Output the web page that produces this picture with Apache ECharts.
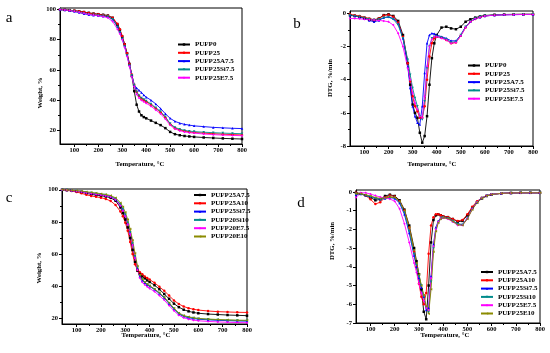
<!DOCTYPE html>
<html><head><meta charset="utf-8">
<script src="https://cdn.jsdelivr.net/npm/echarts@6/dist/echarts.min.js"></script>
<style>html,body{margin:0;padding:0;background:#fff;}#c{width:550px;height:353px;}</style>
</head><body><div id="c"></div>
<script>
// shared temperature grid (°C)
const temps = [40,60,80,100,120,140,160,180,200,220,240,260,280,290,300,310,320,330,340,350,360,370,380,390,400,420,440,460,480,500,520,540,560,580,600,640,680,720,760,800];

// ---- panel a : TGA (Weight, %)
const aNames = ['PUFP0','PUFP25','PUFP25A7.5','PUFP25Si7.5','PUFP25E7.5'];
const a_PUFP0 = [100,99.8,99.5,99.2,98.8,98.3,97.8,97.3,96.9,96.5,96,94.5,90,86.5,82,77,71,64,56,46,37,32.5,30,28.8,28,26.5,25,23.5,21.5,19,17.5,16.8,16.3,16,15.7,15.3,15,14.7,14.5,14.3];
const a_PUFP25 = [100,99.8,99.5,99.2,98.8,98.3,97.7,97.2,96.8,96.4,95.9,94.5,90.5,87,82.5,77,71,64,57,50,45.5,43,41,40,39,37,34.5,32,28.5,24,21.5,20.3,19.6,19,18.6,18.2,17.8,17.5,17.2,17];
const a_PUFP25A75 = [100,99.6,99.2,98.7,98,97.2,96.6,96.2,95.9,95.6,95.2,93.5,89,85.5,81,76,70,63.5,56.5,50,48,46.5,45,43.5,42,40,37.5,34.5,31,28,26,24.8,24,23.5,23,22.5,22,21.7,21.4,21.2];
const a_PUFP25Si75 = [100,99.7,99.3,98.8,98.2,97.5,96.9,96.5,96.2,95.9,95.4,93.5,88.5,85,80.5,75.5,69.5,63,56.5,50,45.5,43,41.5,40.5,39.5,37.5,35,32.5,29,24.5,22,20.8,20,19.5,19.2,18.8,18.5,18.2,18,17.8];
const a_PUFP25E75 = [100,99.7,99.3,98.8,98.2,97.5,96.8,96.3,95.9,95.4,94.5,92,87,84,80,75,69,62.5,55.5,49,44,41.5,40,39,38,36,33.5,31,27.5,23.5,21,19.8,19,18.5,18.2,17.6,17.2,16.9,16.7,16.5];

// ---- panel b : DTG (%/min)
const bNames = ['PUFP0','PUFP25','PUFP25A7.5','PUFP25Si7.5','PUFP25E7.5'];
const b_PUFP0 = [-0.1,-0.15,-0.2,-0.28,-0.38,-0.42,-0.3,-0.1,-0.05,-0.15,-0.45,-1.3,-3.0,-4.3,-5.5,-6.0,-6.3,-7.2,-7.8,-7.4,-6.2,-4.3,-2.7,-1.8,-1.3,-0.85,-0.8,-0.9,-0.95,-0.8,-0.5,-0.35,-0.25,-0.18,-0.12,-0.08,-0.06,-0.05,-0.05,-0.05];
const b_PUFP25 = [-0.05,-0.1,-0.15,-0.22,-0.3,-0.38,-0.3,-0.12,-0.08,-0.2,-0.55,-1.4,-3.0,-4.1,-5.0,-5.6,-5.9,-6.3,-6.3,-5.6,-4.0,-2.6,-1.8,-1.5,-1.4,-1.45,-1.6,-1.8,-1.75,-1.35,-0.85,-0.5,-0.33,-0.22,-0.15,-0.09,-0.07,-0.06,-0.05,-0.05];
const b_PUFP25A75 = [-0.1,-0.15,-0.22,-0.3,-0.42,-0.5,-0.42,-0.25,-0.2,-0.3,-0.6,-1.5,-3.2,-4.5,-5.6,-6.2,-6.6,-6.7,-5.6,-3.6,-1.8,-1.3,-1.2,-1.22,-1.3,-1.4,-1.5,-1.65,-1.65,-1.3,-0.8,-0.5,-0.32,-0.22,-0.15,-0.1,-0.08,-0.07,-0.06,-0.06];
const b_PUFP25Si75 = [-0.1,-0.15,-0.2,-0.26,-0.33,-0.38,-0.35,-0.25,-0.22,-0.35,-0.7,-1.5,-2.8,-3.7,-4.5,-5.1,-5.6,-6.2,-6.4,-5.3,-3.3,-2.0,-1.5,-1.4,-1.4,-1.45,-1.55,-1.75,-1.7,-1.3,-0.8,-0.48,-0.3,-0.2,-0.14,-0.09,-0.07,-0.06,-0.05,-0.05];
const b_PUFP25E75 = [-0.3,-0.3,-0.32,-0.35,-0.38,-0.4,-0.42,-0.45,-0.5,-0.7,-1.2,-2.0,-3.3,-4.0,-4.8,-5.4,-5.8,-6.2,-6.3,-5.0,-3.2,-2.0,-1.55,-1.4,-1.4,-1.5,-1.6,-1.8,-1.75,-1.35,-0.85,-0.5,-0.32,-0.22,-0.15,-0.1,-0.08,-0.07,-0.06,-0.06];

// ---- panel c : TGA (Weight, %)
const cNames = ['PUFP25A7.5','PUFP25A10','PUFP25Si7.5','PUFP20Si10','PUFP20E7.5','PUFP20E10'];
const c_A75 = [100,99.8,99.5,99.1,98.5,97.8,97.2,96.7,96.3,95.8,95,93.2,89,85.5,81.5,76.5,70,62.5,55,49.5,47.5,46,44.8,43.5,42.5,40.5,38,35,32,29,26.8,25.2,24.2,23.5,23,22.5,22.2,21.9,21.7,21.5];
const c_A10 = [100,99.7,99.2,98.6,97.8,96.9,96.2,95.6,95.1,94.3,93,90.5,86.5,83.5,79.5,74.5,67.5,60,53.5,50,48.5,47.3,46,45,44,42,39.5,37,34,31,28.8,27.2,26.2,25.5,25,24.4,24,23.8,23.6,23.5];
const c_Si75 = [100,99.8,99.6,99.3,98.9,98.4,97.9,97.4,97,96.5,95.7,94,90.5,87.5,84,79,73,66,58,51,46,43.5,42,40.8,39.8,37.8,35.3,32.5,29,25.5,22.5,21,20.2,19.7,19.3,18.9,18.6,18.4,18.2,18.1];
const c_Si10 = [100,99.8,99.6,99.3,98.9,98.5,98,97.6,97.2,96.7,96,94.4,91,88,84.5,79.5,73.5,66.5,58.5,51.5,46.5,44,42.3,41,40,38,35.6,32.8,29.3,25.8,22.8,21.3,20.5,20,19.6,19.2,18.9,18.7,18.5,18.4];
const c_E75 = [100,99.8,99.5,99.2,98.8,98.2,97.7,97.2,96.8,96.3,95.5,93.8,90,87,83.5,78.5,72.5,65.5,57.5,50,45,42.3,40.8,39.5,38.5,36.5,34,31.2,27.8,24.5,21.8,20.2,19.3,18.7,18.3,17.9,17.6,17.4,17.2,17.1];
const c_E10 = [100,99.9,99.7,99.5,99.2,98.8,98.4,98,97.6,97.1,96.4,95,92,89.5,86,81.5,75.5,68.5,60.5,52.5,47,44.2,42.5,41.2,40.2,38.2,35.8,33,29.6,26.2,23.2,21.6,20.8,20.2,19.8,19.4,19.1,18.9,18.7,18.6];

// ---- panel d : DTG (%/min)
const dNames = ['PUFP25A7.5','PUFP25A10','PUFP25Si7.5','PUFP25Si10','PUFP25E7.5','PUFP25E10'];
const d_A75 = [-0.05,-0.1,-0.18,-0.3,-0.45,-0.4,-0.22,-0.15,-0.22,-0.45,-0.95,-1.8,-3.0,-3.7,-4.4,-5.2,-6.4,-6.8,-5.0,-2.7,-1.5,-1.25,-1.2,-1.25,-1.3,-1.35,-1.45,-1.6,-1.55,-1.25,-0.85,-0.55,-0.35,-0.22,-0.14,-0.08,-0.06,-0.05,-0.05,-0.05];
const d_A10 = [-0.05,-0.1,-0.2,-0.4,-0.65,-0.55,-0.3,-0.2,-0.25,-0.5,-1.0,-1.9,-3.2,-4.0,-4.9,-5.6,-6.0,-5.4,-3.3,-1.8,-1.35,-1.2,-1.2,-1.25,-1.3,-1.35,-1.45,-1.55,-1.5,-1.2,-0.8,-0.5,-0.32,-0.2,-0.13,-0.08,-0.06,-0.05,-0.05,-0.05];
const d_Si75 = [-0.15,-0.12,-0.18,-0.25,-0.32,-0.38,-0.35,-0.3,-0.35,-0.6,-1.2,-2.2,-3.4,-4.0,-4.6,-5.1,-5.6,-6.3,-6.2,-4.5,-2.8,-1.9,-1.55,-1.4,-1.35,-1.4,-1.55,-1.7,-1.75,-1.4,-0.9,-0.55,-0.33,-0.2,-0.13,-0.08,-0.06,-0.05,-0.05,-0.05];
const d_Si10 = [-0.1,-0.12,-0.2,-0.28,-0.35,-0.4,-0.35,-0.28,-0.32,-0.55,-1.1,-2.1,-3.3,-3.9,-4.5,-5.0,-5.6,-6.2,-6.4,-4.8,-3.0,-2.0,-1.6,-1.42,-1.36,-1.42,-1.55,-1.72,-1.75,-1.4,-0.9,-0.55,-0.33,-0.2,-0.13,-0.08,-0.06,-0.05,-0.05,-0.05];
const d_E75 = [-0.3,-0.05,-0.05,-0.12,-0.2,-0.28,-0.32,-0.38,-0.5,-0.9,-1.7,-2.7,-3.8,-4.3,-4.9,-5.4,-5.8,-6.2,-6.3,-4.6,-2.9,-2.0,-1.6,-1.42,-1.38,-1.45,-1.6,-1.78,-1.78,-1.42,-0.92,-0.56,-0.34,-0.2,-0.13,-0.08,-0.06,-0.05,-0.05,-0.05];
const d_E10 = [-0.1,-0.1,-0.15,-0.22,-0.3,-0.35,-0.32,-0.28,-0.3,-0.5,-1.0,-1.9,-3.1,-3.8,-4.4,-5.0,-5.5,-6.1,-6.5,-5.2,-3.2,-2.1,-1.65,-1.45,-1.38,-1.42,-1.58,-1.75,-1.78,-1.45,-0.95,-0.58,-0.35,-0.21,-0.14,-0.08,-0.06,-0.05,-0.05,-0.05];

// tick labels
const xTicks = [100,200,300,400,500,600,700,800];
const xMinor = [150,250,350,450,550,650,750];
const wTicks = [20,40,60,80,100];
const wMinor = [30,50,70,90];
const bTicks = [-8,-6,-4,-2,0];
const bMinor = [-7,-5,-3,-1];
const dTicks = [-7,-6,-5,-4,-3,-2,-1,0];

const colors6 = ['#000000','#ff0000','#0000ff','#008b8b','#ff00ff','#8b8b00'];
const symbols6 = ['rect','circle','triangle','triangle','diamond','triangle'];
const rot6 = [0,0,0,180,0,90];
const F = '"Liberation Serif","Times New Roman",serif';

const grids = [
  {left:60, top:8, width:182, height:136},
  {left:350, top:11, width:183, height:135},
  {left:62, top:189, width:185, height:135},
  {left:356, top:190, width:184, height:133}
];
const yRanges = [[11,101],[-8,0.15],[16.3,100.5],[-7,0.1]];
const yLabels = [wTicks,bTicks,wTicks,dTicks];
const yMinors = [wMinor,bMinor,wMinor,[]];

const xAxes = [], yAxes = [];
grids.forEach((g,i)=>{
  xAxes.push({type:'value', gridIndex:i, position:'bottom', min:40, max:800,
    axisLine:{show:true, onZero:false, lineStyle:{color:'#000', width:1}},
    axisTick:{show:true, length:3, customValues:xTicks, lineStyle:{color:'#000'}},
    axisLabel:{customValues:xTicks, fontSize:6.5, fontFamily:F, fontWeight:'bold', color:'#000', margin:3},
    splitLine:{show:false}});
  yAxes.push({type:'value', gridIndex:i, position:'left', min:yRanges[i][0], max:yRanges[i][1],
    axisLine:{show:true, onZero:false, lineStyle:{color:'#000', width:1}},
    axisTick:{show:true, length:3, customValues:yLabels[i], lineStyle:{color:'#000'}},
    axisLabel:{customValues:yLabels[i], fontSize:6.5, fontFamily:F, fontWeight:'bold', color:'#000', margin:4},
    splitLine:{show:false}});
});
grids.forEach((g,i)=>{
  xAxes.push({type:'value', gridIndex:i, position:'bottom', min:40, max:800,
    axisLine:{show:false, onZero:false}, axisTick:{show:true, length:2, customValues:xMinor, lineStyle:{color:'#000'}},
    axisLabel:{show:false}, splitLine:{show:false}});
  yAxes.push({type:'value', gridIndex:i, position:'left', min:yRanges[i][0], max:yRanges[i][1],
    axisLine:{show:false, onZero:false}, axisTick:{show:yMinors[i].length>0, length:2, customValues:yMinors[i].length?yMinors[i]:[yRanges[i][0]], lineStyle:{color:'#000'}},
    axisLabel:{show:false}, splitLine:{show:false}});
});

const panels = [
  {key:'a', names:aNames, data:[a_PUFP0,a_PUFP25,a_PUFP25A75,a_PUFP25Si75,a_PUFP25E75], legend:{left:177, top:41}},
  {key:'b', names:bNames, data:[b_PUFP0,b_PUFP25,b_PUFP25A75,b_PUFP25Si75,b_PUFP25E75], legend:{left:467, top:62}},
  {key:'c', names:cNames, data:[c_A75,c_A10,c_Si75,c_Si10,c_E75,c_E10], legend:{left:193, top:191.5}},
  {key:'d', names:dNames, data:[d_A75,d_A10,d_Si75,d_Si10,d_E75,d_E10], legend:{left:480, top:268.5}}
];

const series = [], legends = [];
panels.forEach((p,pi)=>{
  const ids = [];
  p.names.forEach((n,si)=>{
    const id = p.key+':'+n;
    ids.push(id);
    series.push({type:'line', name:id, xAxisIndex:pi, yAxisIndex:pi,
      data: temps.map((t,k)=>[t,p.data[si][k]]),
      symbol:symbols6[si], symbolRotate:rot6[si], symbolSize:2.5, showSymbol:true,
      lineStyle:{width:0.9, color:colors6[si]}, itemStyle:{color:colors6[si]},
      emphasis:{disabled:true}, silent:true});
  });
  legends.push({data:ids, left:p.legend.left, top:p.legend.top, orient:'vertical', padding:0,
    itemWidth:12, itemHeight:3, itemGap:1.3, selectedMode:false,
    formatter: n => n.split(':')[1],
    textStyle:{fontSize:7, lineHeight:7, fontFamily:F, fontWeight:'bold', color:'#000'}});
});

function txt(x,y,s,size,opts){
  return Object.assign({type:'text', x:x, y:y, silent:true,
    style:{text:s, font:(opts&&opts.weight||'bold')+' '+size+'px '+F, fill:'#000', textAlign:'center', textVerticalAlign:'middle'}}, opts&&opts.extra||{});
}
const graphic = [
  txt(9,18,'a',15,{weight:'normal'}),
  txt(297,24,'b',15,{weight:'normal'}),
  txt(9,198,'c',15,{weight:'normal'}),
  txt(301,203,'d',15,{weight:'normal'}),
  txt(140,164,'Temperature, °C',6.8),
  txt(432,164,'Temperature, °C',6.8),
  txt(146,335,'Temperature, °C',6.8),
  txt(445,335,'Temperature, °C',6.8),
  txt(40,93,'Weight, %',6.8,{extra:{rotation:Math.PI/2}}),
  txt(330,78,'DTG, %/min',6.8,{extra:{rotation:Math.PI/2}}),
  txt(39,268,'Weight, %',6.8,{extra:{rotation:Math.PI/2}}),
  txt(332,241,'DTG, %/min',6.8,{extra:{rotation:Math.PI/2}})
];

const chart = echarts.init(document.getElementById('c'), null, {renderer:'canvas'});
chart.setOption({
  animation:false,
  backgroundColor:'#fff',
  grid: grids.map(g=>Object.assign({show:true, borderColor:'#000', borderWidth:1, backgroundColor:'transparent', containLabel:false}, g)),
  xAxis:xAxes, yAxis:yAxes, series:series, legend:legends, graphic:graphic
});
</script></body></html>
